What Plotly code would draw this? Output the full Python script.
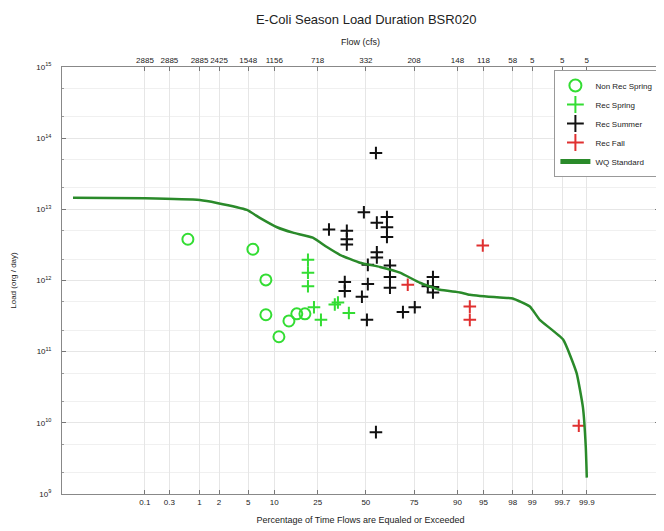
import plotly.graph_objects as go
from statistics import NormalDist

# ---------------- data ----------------
pct_ticks = [0.1, 0.3, 1, 2, 5, 10, 25, 50, 75, 90, 95, 98, 99, 99.7, 99.9]
pct_labels = ["0.1", "0.3", "1", "2", "5", "10", "25", "50", "75", "90", "95", "98", "99", "99.7", "99.9"]
flow_labels = ["2885", "2885", "2885", "2425", "1548", "1156", "718", "332", "208", "148", "118", "58", "5", "5", "5"]

wq_pct = [0.0021, 0.1, 1.01, 1.86, 4.8, 6.9, 10.7, 15.4, 22.9, 29.3, 35.8, 46.7, 57.8, 68.3, 77.5,
          84.97, 90.6, 92.7, 96.95, 98.0, 98.91, 99.25, 99.71, 99.84, 99.88, 99.895, 99.90]
wq_load = [1.45e13, 1.43e13, 1.35e13, 1.23e13, 9.8e12, 7.6e12, 5.6e12, 4.7e12, 4.0e12, 2.95e12, 2.3e12,
           1.78e12, 1.55e12, 1.29e12, 9.3e11, 7.4e11, 6.8e11, 6.3e11, 5.75e11, 5.6e11, 4.3e11, 2.8e11,
           1.48e11, 5.0e10, 1.66e10, 4.6e9, 1.7e9]

nonrec_spring_pct = [0.64, 5.7, 8.1, 8.1, 11.2, 14.1, 16.7, 19.7]
nonrec_spring_load = [3.8e12, 2.75e12, 1.02e12, 3.3e11, 1.62e11, 2.7e11, 3.4e11, 3.4e11]

rec_spring_pct = [20.9, 20.9, 20.9, 23.4, 26.5, 33.2, 34.8, 40.6]
rec_spring_load = [1.95e12, 1.29e12, 8.3e11, 4.2e11, 2.8e11, 4.6e11, 4.9e11, 3.5e11]

rec_summer_pct = [55.6, 48.9, 30.3, 39.5, 39.5, 39.5, 56.1, 61.6, 61.6, 61.6, 56.1, 56.1, 51.1, 63.2,
                  63.2, 63.2, 38.4, 38.4, 51.1, 47.8, 50.6, 69.8, 75.3, 82.6, 82.6, 80.7, 82.6, 55.6]
rec_summer_load = [6.2e13, 9.1e12, 5.2e12, 5.0e12, 3.8e12, 3.2e12, 6.5e12, 7.8e12, 5.6e12, 4.1e12,
                   2.5e12, 2.1e12, 1.66e12, 1.62e12, 1.12e12, 7.9e11, 9.5e11, 7.1e11, 8.9e11, 5.9e11,
                   2.8e11, 3.6e11, 4.2e11, 1.12e12, 8.1e11, 8.3e11, 6.8e11, 7.4e9]

rec_fall_pct = [72.1, 94.9, 92.7, 92.7, 99.855]
rec_fall_load = [8.7e11, 3.1e12, 4.3e11, 2.8e11, 9.1e9]

y_exps = [9, 10, 11, 12, 13, 14, 15]

# ---------------- normal-probability scale ----------------
nd = NormalDist()
def zs(p_list):
    return [nd.inv_cdf(p / 100.0) for p in p_list]

FONT = "Liberation Sans, Arial, sans-serif"
GREEN = "#33dd33"
LINE_GREEN = "#2a8a2a"
RED = "#e03030"

fig = go.Figure()

fig.add_trace(go.Scatter(
    x=zs(nonrec_spring_pct), y=nonrec_spring_load, mode="markers", name="Non Rec Spring",
    marker=dict(symbol="circle-open", size=11, color=GREEN, line=dict(width=2, color=GREEN))))
fig.add_trace(go.Scatter(
    x=zs(rec_spring_pct), y=rec_spring_load, mode="markers", name="Rec Spring",
    marker=dict(symbol="cross-thin", size=9, color=GREEN, line=dict(width=2, color=GREEN))))
fig.add_trace(go.Scatter(
    x=zs(rec_summer_pct), y=rec_summer_load, mode="markers", name="Rec Summer",
    marker=dict(symbol="cross-thin", size=9, color="#111111", line=dict(width=2, color="#111111"))))
fig.add_trace(go.Scatter(
    x=zs(rec_fall_pct), y=rec_fall_load, mode="markers", name="Rec Fall",
    marker=dict(symbol="cross-thin", size=9, color=RED, line=dict(width=2, color=RED))))
fig.add_trace(go.Scatter(
    x=zs(wq_pct), y=wq_load, mode="lines", name="WQ Standard",
    line=dict(color=LINE_GREEN, width=2.5, shape="spline", smoothing=0.4)))
# invisible trace to enable top axis
fig.add_trace(go.Scatter(x=zs([50]), y=[1e12], xaxis="x2", mode="markers",
                         marker=dict(opacity=0), showlegend=False, hoverinfo="skip"))

xr = [-4.25, 4.10]
tick_z = zs(pct_ticks)

# the page body adds an 8 px offset, so the figure is 656x523
fig.update_layout(
    width=656, height=523,
    margin=dict(l=54, r=5, t=59, b=37, autoexpand=False),
    paper_bgcolor="white", plot_bgcolor="white",
    font=dict(family=FONT, size=8, color="#222222"),
    title=dict(text="E-Coli Season Load Duration BSR020", x=0.546, xanchor="center",
               y=0.979, yanchor="middle", font=dict(size=13, color="#222222")),
    xaxis=dict(range=xr, tickmode="array", tickvals=tick_z, ticktext=pct_labels,
               showgrid=True, gridcolor="#e6e6e6", gridwidth=1, tickangle=0, automargin=False,
               ticks="inside", ticklen=4, tickcolor="#777777",
               showline=True, linecolor="#888888", linewidth=1, mirror=False,
               zeroline=False, tickfont=dict(size=8),
               title=dict(text="Percentage of Time Flows are Equaled or Exceeded",
                          font=dict(size=9), standoff=11)),
    xaxis2=dict(range=xr, overlaying="x", side="top", tickmode="array", tickvals=tick_z,
                ticktext=flow_labels, showgrid=False, ticks="inside", ticklen=4,
                tickangle=0, automargin=False,
                tickcolor="#777777", showline=True, linecolor="#888888", linewidth=1,
                zeroline=False, tickfont=dict(size=8),
                title=dict(text="Flow (cfs)", font=dict(size=9), standoff=8)),
    yaxis=dict(type="log", range=[9, 15], tickmode="array",
               tickvals=[10 ** e for e in y_exps],
               ticktext=["10<sup>%d</sup>" % e for e in y_exps], automargin=False,
               showgrid=True, gridcolor="#e6e6e6", gridwidth=1,
               ticks="inside", ticklen=4, tickcolor="#777777", ticklabelstandoff=8,
               showline=True, linecolor="#888888", linewidth=1, mirror="ticks",
               zeroline=False, tickfont=dict(size=8),
               minor=dict(ticks="inside", ticklen=2, tickcolor="#999999",
                          showgrid=True, gridcolor="#f0f0f0", gridwidth=1),
               title=dict(text="Load (org / day)", font=dict(size=8), standoff=18)),
    legend=dict(x=0.999, xanchor="right", y=0.993, yanchor="top",
                bgcolor="white", bordercolor="#999999", borderwidth=1,
                font=dict(size=8, color="#222222"), tracegroupgap=0,
                itemwidth=30, itemsizing="constant"),
    showlegend=True,
)

fig.write_html("out.html")
